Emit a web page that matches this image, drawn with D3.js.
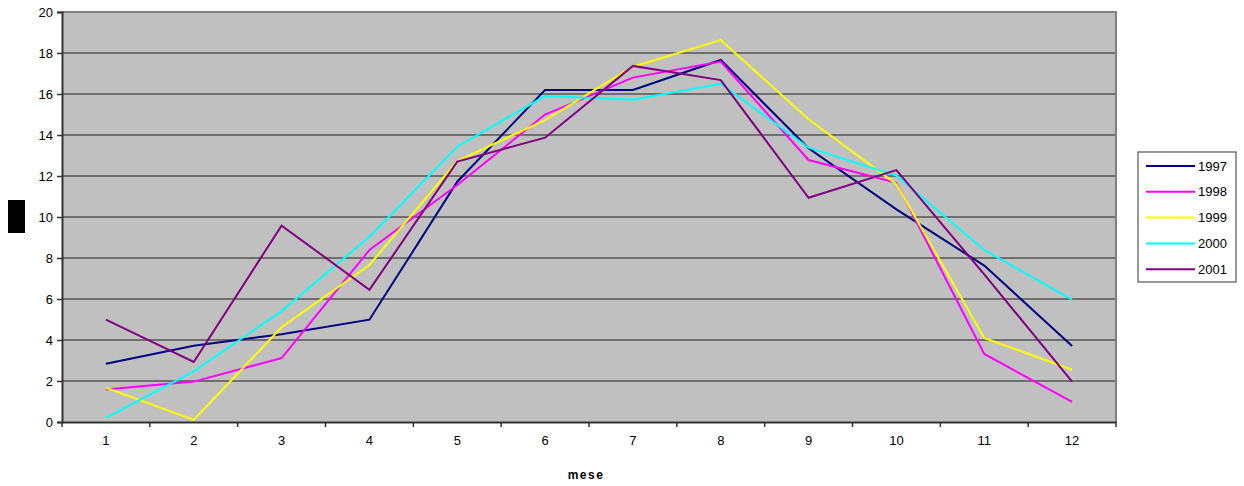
<!DOCTYPE html>
<html><head><meta charset="utf-8">
<script src="https://cdn.jsdelivr.net/npm/d3@7"></script>
<style>body{margin:0;background:#fff}svg{display:block;font-family:"Liberation Sans",Arial,sans-serif}</style>
</head><body><svg id="c" width="1244" height="486"></svg>
<script>
const months = [1,2,3,4,5,6,7,8,9,10,11,12];
const yTicks = [0,2,4,6,8,10,12,14,16,18,20];
const seriesNames = ["1997","1998","1999","2000","2001"];
const seriesColors = ["#000080","#ff00ff","#ffff00","#00ffff","#800080"];
const v1997 = [2.84,3.72,4.28,4.99,11.72,16.2,16.2,17.66,13.35,10.37,7.63,3.71];
const v1998 = [1.58,1.97,3.12,8.39,11.56,15.0,16.8,17.58,12.78,11.67,3.32,0.98];
const v1999 = [1.67,0.1,4.62,7.66,12.73,14.73,17.33,18.63,14.77,11.6,4.1,2.55];
const v2000 = [0.2,2.47,5.41,9.04,13.43,15.9,15.72,16.5,13.38,12.02,8.39,5.97];
const v2001 = [4.99,2.93,9.58,6.45,12.7,13.87,17.37,16.68,10.94,12.29,7.2,1.97];
const seriesValues = [v1997,v1998,v1999,v2000,v2001];

const svg = d3.select("#c");
const L=62, R=1116, T=12, B=422;
const x = d3.scaleBand().domain(months).range([L,R]);
const y = d3.scaleLinear().domain([0,20]).range([B,T]);

svg.append("rect").attr("x",L).attr("y",T).attr("width",R-L).attr("height",B-T)
  .attr("fill","#c0c0c0");
// gridlines
svg.append("g").selectAll("line").data(yTicks.filter(d=>d>0&&d<20)).join("line")
  .attr("x1",L).attr("x2",R).attr("y1",d=>y(d)).attr("y2",d=>y(d))
  .attr("stroke","#555").attr("stroke-width",1.6);
// border top/right
svg.append("path").attr("d",`M${L},${T}H${R}V${B}`).attr("fill","none")
  .attr("stroke","#808080").attr("stroke-width",2);

// y axis
const ya = svg.append("g").attr("transform",`translate(${L},0)`)
  .call(d3.axisLeft(y).tickValues(yTicks).tickSize(5).tickPadding(4));
ya.select(".domain").attr("stroke","#333").attr("stroke-width",2);
ya.selectAll(".tick line").attr("stroke","#333").attr("stroke-width",1.5);
ya.selectAll("text").attr("font-size",13).attr("fill","#000").attr("font-family","Liberation Sans, Arial, sans-serif");

// x axis
const xa = svg.append("g").attr("transform",`translate(0,${B})`)
  .call(d3.axisBottom(x).tickSize(0).tickPadding(14));
xa.select(".domain").attr("stroke","#333").attr("stroke-width",2);
xa.selectAll("text").attr("font-size",13).attr("fill","#000").attr("font-family","Liberation Sans, Arial, sans-serif");
// x boundary ticks
const bounds = months.map(m=>x(m)).concat([R]);
svg.append("g").selectAll("line").data(bounds).join("line")
  .attr("x1",d=>d).attr("x2",d=>d).attr("y1",B).attr("y2",B+5)
  .attr("stroke","#333").attr("stroke-width",1.5);

// lines
const line = d3.line().x((d,i)=>x(months[i])+x.bandwidth()/2).y(d=>y(d));
seriesValues.forEach((vals,i)=>{
  svg.append("path").datum(vals).attr("d",line).attr("fill","none")
    .attr("stroke",seriesColors[i]).attr("stroke-width",2);
});

// axis titles
svg.append("text").attr("x",586).attr("y",479).attr("text-anchor","middle")
  .attr("font-size",12).attr("font-weight","bold").attr("letter-spacing",1.5).text("mese");
svg.append("rect").attr("x",8).attr("y",200).attr("width",17).attr("height",33).attr("fill","#000");

// legend
const lg = svg.append("g");
lg.append("rect").attr("x",1138).attr("y",152).attr("width",98).attr("height",130)
  .attr("fill","#fff").attr("stroke","#555").attr("stroke-width",1.2);
seriesNames.forEach((n,i)=>{
  const yy = 166 + i*25.8;
  lg.append("line").attr("x1",1146).attr("x2",1195).attr("y1",yy).attr("y2",yy)
    .attr("stroke",seriesColors[i]).attr("stroke-width",2);
  lg.append("text").attr("x",1198).attr("y",yy+4.5).attr("font-size",13).text(n);
});
</script></body></html>
